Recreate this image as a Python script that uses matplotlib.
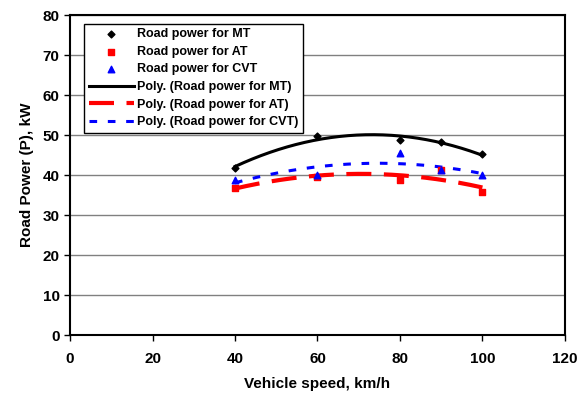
import matplotlib.pyplot as plt
import numpy as np

plt.rcParams['font.family'] = ['Liberation Sans', 'DejaVu Sans']

speed = [40, 60, 80, 90, 100]
power_mt = [41.8, 49.8, 48.7, 48.2, 45.2]
power_at = [36.8, 39.6, 38.7, 41.2, 35.8]
power_cvt = [38.7, 40.0, 45.4, 41.2, 40.0]

fig = plt.figure(figsize=(5.86, 3.96), dpi=100)
ax = fig.add_axes([0.1195, 0.154, 0.8445, 0.808])

xs = np.linspace(40, 100, 200)
mt_fit = np.polyval(np.polyfit(speed, power_mt, 2), xs)
at_fit = np.polyval(np.polyfit(speed, power_at, 2), xs)
cvt_fit = np.polyval(np.polyfit(speed, power_cvt, 2), xs)

ax.scatter(speed, power_mt, marker='D', s=12, color='black', zorder=4, label='Road power for MT')
ax.scatter(speed, power_at, marker='s', s=18, color='red', zorder=4, label='Road power for AT')
ax.scatter(speed, power_cvt, marker='^', s=22, color='blue', zorder=4, label='Road power for CVT')
ax.plot(xs, mt_fit, color='black', lw=2.2, zorder=3, label='Poly. (Road power for MT)')
ax.plot(xs, at_fit, color='red', lw=3, dashes=(6, 3), zorder=3, label='Poly. (Road power for AT)')
ax.plot(xs, cvt_fit, color='blue', lw=2.2, dashes=(2.5, 3.5), zorder=3, label='Poly. (Road power for CVT)')

ax.set_xlim(0, 120)
ax.set_ylim(0, 80)
ax.set_xticks(np.arange(0, 121, 20))
ax.set_yticks(np.arange(0, 81, 10))
ax.yaxis.grid(True, color='#808080', lw=1)
ax.set_axisbelow(True)
for s in ax.spines.values():
    s.set_linewidth(1.5)
    s.set_color('black')
ax.tick_params(labelsize=11, direction='out', length=4, width=1)
ax.tick_params(axis='x', pad=8)
for lbl in ax.get_xticklabels() + ax.get_yticklabels():
    lbl.set_fontweight('bold')

ax.set_xlabel('Vehicle speed, km/h', fontsize=11, fontweight='bold', labelpad=8)
ax.set_ylabel('Road Power (P), kW', fontsize=11, fontweight='bold', labelpad=6)

leg = ax.legend(loc='upper left', bbox_to_anchor=(0.016, 0.992),
                prop={'weight': 'bold', 'size': 9}, frameon=True, fancybox=False,
                edgecolor='black', framealpha=1, handlelength=3.6, labelspacing=0.45,
                borderpad=0.35, handletextpad=0.3, scatterpoints=1)
leg.get_frame().set_linewidth(1)

fig.savefig('out.png', dpi=100)
